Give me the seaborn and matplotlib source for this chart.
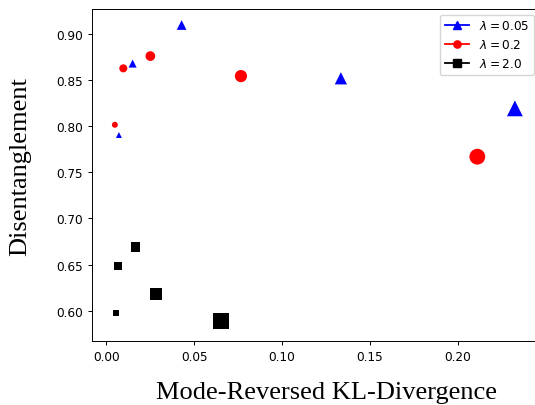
import pandas as pd
import matplotlib
matplotlib.use('Agg')
import matplotlib.pyplot as plt
from matplotlib.lines import Line2D
import seaborn as sns

# values (smallest marker first within each lambda)
lambdas = ['0.05', '0.2', '2.0']
kl_005 = [0.0071, 0.0149, 0.0428, 0.1335, 0.2326]
dis_005 = [0.7905, 0.868, 0.9098, 0.852, 0.8194]
kl_02 = [0.0048, 0.0096, 0.0250, 0.0766, 0.2112]
dis_02 = [0.8016, 0.8628, 0.8761, 0.8544, 0.767]
kl_20 = [0.0054, 0.0065, 0.0166, 0.0282, 0.065]
dis_20 = [0.597, 0.648, 0.669, 0.6177, 0.5884]
x_ticks = [0.00, 0.05, 0.10, 0.15, 0.20]
y_ticks = [0.60, 0.65, 0.70, 0.75, 0.80, 0.85, 0.90]

colors = {'0.05': 'blue', '0.2': 'red', '2.0': 'black'}
markers = {'0.05': '^', '0.2': 'o', '2.0': 's'}
marker_pts = [4.3, 5.8, 7.0, 8.8, 11.4]

rows = []
for lam, xs, ys in zip(lambdas, [kl_005, kl_02, kl_20], [dis_005, dis_02, dis_20]):
    for i, (x, y) in enumerate(zip(xs, ys)):
        rows.append([lam, i, x, y])
df = pd.DataFrame(rows, columns=['lam', 'rank', 'kl', 'dis'])

plt.rcParams['font.size'] = 8.7
plt.rcParams['axes.linewidth'] = 0.7
plt.rcParams['xtick.major.size'] = 3
plt.rcParams['ytick.major.size'] = 3
plt.rcParams['xtick.major.width'] = 0.7
plt.rcParams['ytick.major.width'] = 0.7

fig = plt.figure(figsize=(5.35, 4.06), dpi=100)
ax = fig.add_axes([91.7 / 535, (406 - 342.3) / 406, 448.3 / 535, 332.8 / 406])

sns.scatterplot(
    data=df, x='kl', y='dis', hue='lam', style='lam', size='rank',
    palette=colors, markers=markers,
    sizes={i: s ** 2 for i, s in enumerate(marker_pts)},
    linewidth=0, legend=False, ax=ax,
)

ax.set_xlim(-0.0084, 0.2469)
ax.set_ylim(0.5668, 0.9277)
ax.set_xticks(x_ticks)
ax.set_yticks(y_ticks)
ax.set_xlabel('')
ax.set_ylabel('')

handles = [
    Line2D([], [], color=colors[lam], marker=markers[lam], ms=5.2, lw=1.3,
           label=rf'$\lambda = {lam}$')
    for lam in lambdas
]
ax.legend(handles=handles, loc='upper right', fontsize=8.7)

fig.text(327 / 535, 1 - 399.5 / 406, 'Mode-Reversed KL-Divergence',
         family='Liberation Serif', fontsize=19, ha='center', va='baseline')
fig.text(20.5 / 535, 1 - 167 / 406, 'Disentanglement',
         family='Liberation Serif', fontsize=19, rotation=90,
         ha='center', va='center')

fig.savefig('out.png', dpi=100)
plt.close()
